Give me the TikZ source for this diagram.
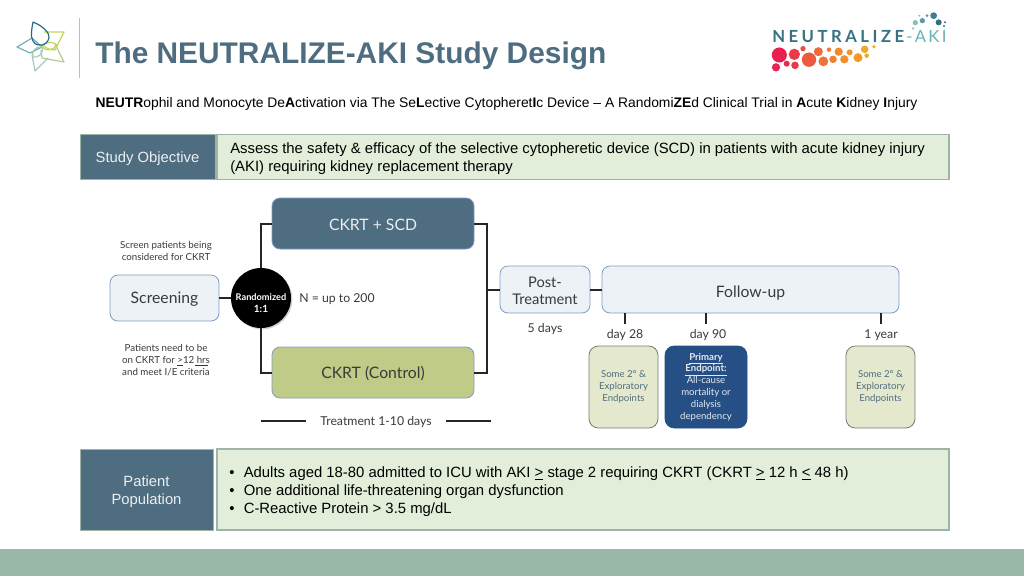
\documentclass[tikz,border=0pt]{standalone}
\usepackage{fontspec}
\setmainfont{Liberation Sans}
\newfontfamily\lato{Lato}
\usetikzlibrary{shadows}
\definecolor{slate}{HTML}{4F6D80}
\definecolor{palegreen}{HTML}{E2EED9}
\definecolor{greenline}{HTML}{9DB4A6}
\definecolor{olive}{HTML}{BFCB86}
\definecolor{icebox}{HTML}{EDF2F7}
\definecolor{iceline}{HTML}{7F9CC4}
\definecolor{sand}{HTML}{E4E9CD}
\definecolor{navy}{HTML}{254F85}
\definecolor{footer}{HTML}{9AB8A8}
\definecolor{graytxt}{HTML}{3A3A3A}
\definecolor{petaltop}{HTML}{2A6A85}
\definecolor{petalright}{HTML}{C4D65A}
\definecolor{petallow}{HTML}{B5CC8A}
\definecolor{petalbot}{HTML}{A8C8BC}
\definecolor{petalleft}{HTML}{6FB3B8}
\tikzset{
  size/.style 2 args={minimum width=#1*0.75pt, minimum height=#2*0.75pt, inner sep=0pt},
  head/.style={fill=slate, draw=greenline, text=white!90!slate, align=center, font=\fontsize{11.1}{13.5}\selectfont},
  panel/.style={fill=palegreen, draw=greenline, line width=0.8pt},
  arm/.style={rounded corners=6pt, draw=iceline, line width=0.6pt, align=center, font=\lato\fontsize{11.8}{14}\selectfont, text=graytxt},
  phase/.style={arm, fill=icebox},
  goal/.style={rounded corners=7pt, line width=0.6pt, align=center, font=\lato\fontsize{7.2}{8.9}\selectfont},
  note/.style={align=center, font=\lato\fontsize{7.3}{9.1}\selectfont, text=graytxt},
  small/.style={align=center, font=\lato\fontsize{9.2}{11}\selectfont, text=graytxt},
  link/.style={line width=1.5pt, black!85},
  petal/.style={line width=0.9pt, line join=round}
}
\begin{document}
\begin{tikzpicture}[x=0.75pt,y=-0.75pt]
  \useasboundingbox (0,0) rectangle (1024,576);
  \fill[footer] (0,549) rectangle (1024,576);
  % logo left
  \draw[petal,color=petalright] (44,32) -- (64,32) -- (55,50) .. controls (50,50) and (45,48) .. (43,45);
  \draw[petal,color=petallow] (55,44) -- (64,62) -- (42,58) -- (41,50);
  \draw[petal,color=petalbot] (32,55) -- (35,71) -- (48,58);
  \draw[petal,color=petalleft] (17,47) -- (32,38) -- (42,47) -- (30,53) -- cycle;
  \draw[petal,color=petalright] (42,47) .. controls (46,40) and (54,42) .. (57,45) .. controls (54,50) and (46,52) .. (42,47);
  \draw[petal,color=petalbot] (42,47) .. controls (36,46) and (31,51) .. (33,57) .. controls (38,58) and (44,54) .. (42,47);
  \draw[petal,color=petaltop] (33,22) .. controls (43,26) and (50,33) .. (49,38) .. controls (47,46) and (37,48) .. (33,41) .. controls (30,36) and (32,28) .. (33,22);
  \draw[line width=1.1pt,color=greenline!80!white] (79.5,18) -- (79.5,78);
  % title
  \node[anchor=west,inner sep=0pt,text=slate,font=\bfseries\fontsize{22.4}{26}\selectfont] (title) at (95,55.5) {The NEUTRALIZE-AKI Study Design};
  \node[inner sep=0pt,font=\fontsize{10.4}{12}\selectfont] (full) at (506.5,104) {\textbf{NEUTR}ophil and Monocyte De\textbf{A}ctivation via The Se\textbf{L}ective Cytopheret\textbf{I}c Device -- A Randomi\textbf{ZE}d Clinical Trial in \textbf{A}cute \textbf{K}idney \textbf{I}njury};
  % logo right
  \node[anchor=west,inner sep=0pt,text=slate!70!teal,font=\lato\bfseries\fontsize{12.5}{14}\selectfont] (brand) at (772,36.5) {\addfontfeature{LetterSpace=21}NEUTRALIZE};
  \node[anchor=west,inner sep=0pt,text=teal!60!white,font=\lato\fontsize{12.5}{14}\selectfont] (aki) at (906,36.5) {\addfontfeature{LetterSpace=14}-AKI};
  \foreach \dx/\dy/\dr/\dc in {118/165/20/E8204F,163/163/15/E83A4A,189/146/7/E84A45,140/191/8/E62E50,108/202/11/E6245A,165/196/10/E83A48,207/179/19/EC5B40,235/155/12/EE6A3C,250/184/13/EE703A,267/149/6/EE7A38,279/178/10/F08034,296/155/11/F08A30,313/178/11/F08E2E,329/157/8/F2962A,354/173/12/F29C26,374/148/10/F2A822,380/167/6/F2A822,402/140/5/F2B020} {
    \definecolor{dotc}{HTML}{\dc}
    \fill[dotc] ({740+\dx/3},{\dy/3}) circle ({\dr/3*0.85pt});
  }
  \foreach \dx/\dy/\dr/\dc in {581/47/9/3B7F94,561/47/4/5A9AA6,538/47/3/8DBDB8,547/62/7/5A9AA6,526/68/7/8DBDB8,519/85/4/A8CCC4,596/67/8/2F6F86,615/67/3/2F6F86,612/78/3/2F6F86} {
    \definecolor{dotc}{HTML}{\dc}
    \fill[dotc] ({740+\dx/3},{\dy/3}) circle ({\dr/3*0.85pt});
  }
  % objective
  \node[head,size={135}{45},text depth=0pt] (obj) at (147.5,157) {Study Objective};
  \node[panel,size={732}{45}] (objtxt) at (583,157) {};
  \node[anchor=west,inner sep=0pt,align=left,font=\fontsize{11.15}{13.5}\selectfont] (objline) at (230,158.5) {Assess the safety \& efficacy of the selective cytopheretic device (SCD) in patients with acute kidney injury\\(AKI) requiring kidney replacement therapy};
  % arms
  \node[phase,size={109}{46},text depth=0pt] (scr) at (164.5,298) {Screening};
  \node[circle,fill=black,minimum size=60*0.75pt,inner sep=0pt,drop shadow={opacity=0.35,shadow xshift=1pt,shadow yshift=-1pt}] (rand) at (261,298) {};
  \node[inner sep=0pt,text=white,align=center,font=\lato\bfseries\fontsize{6.9}{9}\selectfont] (randlab) at (261,303.5) {Randomized\\{\fontsize{7.5}{9}\selectfont 1:1}};
  \node[arm,fill=slate,text=white!88!slate,size={202}{51},text height=10pt] (scd) at (373,223.5) {CKRT + SCD};
  \node[arm,fill=olive,size={202}{51},text depth=0pt] (ctrl) at (373,372.5) {CKRT (Control)};
  \node[phase,size={90}{47},font=\lato\fontsize{11}{12.75}\selectfont] (post) at (545,289.5) {\rule{0pt}{9.5pt}Post-\\Treatment};
  \node[phase,size={297}{47},text depth=0pt,text height=11.5pt] (fu) at (750.5,289.5) {Follow-up};
  \coordinate (merge) at (487,289.5);
  \draw[link] (scr) -- (rand);
  \draw[link] (rand) |- (scd);
  \draw[link] (rand) |- (ctrl);
  \draw[link] (scd) -| (merge) |- (ctrl);
  \draw[link] (merge) -- (post);
  \draw[link] (post) -- (fu);
  % notes
  \node[note] (scrtop) at (166,251) {Screen patients being\\considered for CKRT};
  \node[note] (scrbot) at (166,360) {Patients need to be\\on CKRT for \underline{>}12 hrs\\and meet I/E criteria};
  \draw[red!70!black,line width=0.3pt] (195,365) -- (208,365);
  \node[small,anchor=west,inner sep=0pt] (nval) at (299,299) {N = up to 200};
  \node[small,inner sep=0pt] (treat) at (376,422) {Treatment 1-10 days};
  \coordinate (treatl) at (261,421);
  \coordinate (treatr) at (491,421);
  \draw[link] (treatl) -- ++(45,0);
  \draw[link] (treatr) -- ++(-45,0);
  \node[small,inner sep=0pt] (post5) at (545,329) {5 days};
  % timepoints
  \foreach \tname/\tx/\lx/\ttxt in {da/625/625/day 28,db/705.5/708/day 90,dc/881/881/1 year} {
    \node[small,inner sep=0pt] (\tname) at (\lx,335) {\ttxt};
    \coordinate (\tname t) at (\tx,324);
    \draw[link] (\tname t) -- (\tname t |- fu.south);
  }
  \node[goal,fill=sand,draw=greenline!70!black,text=slate,size={69}{82}] (epa) at (623.5,387) {Some 2° \&\\Exploratory\\Endpoints};
  \node[goal,fill=navy,draw=navy,text=white!88!navy,size={82}{82}] (epb) at (706,387) {\textbf{\underline{Primary}}\\\textbf{\underline{Endpoint:}}\\All-cause\\mortality or\\dialysis\\dependency};
  \node[goal,fill=sand,draw=greenline!70!black,text=slate,size={69}{82}] (epc) at (880.5,387) {Some 2° \&\\Exploratory\\Endpoints};
  % population
  \node[head,size={133}{81}] (pop) at (146.5,489.5) {\rule{0pt}{11pt}Patient\\Population};
  \node[panel,size={732}{81}] (poptxt) at (583,489.5) {};
  \node[anchor=west,inner sep=0pt,align=left,font=\fontsize{11.15}{13.5}\selectfont] (popline) at (229,491.5) {•\hspace{7pt}Adults aged 18-80 admitted to ICU with AKI \underline{>} stage 2 requiring CKRT (CKRT \underline{>} 12 h \underline{<} 48 h)\\•\hspace{7pt}One additional life-threatening organ dysfunction\\•\hspace{7pt}C-Reactive Protein > 3.5 mg/dL};
\end{tikzpicture}
\end{document}
